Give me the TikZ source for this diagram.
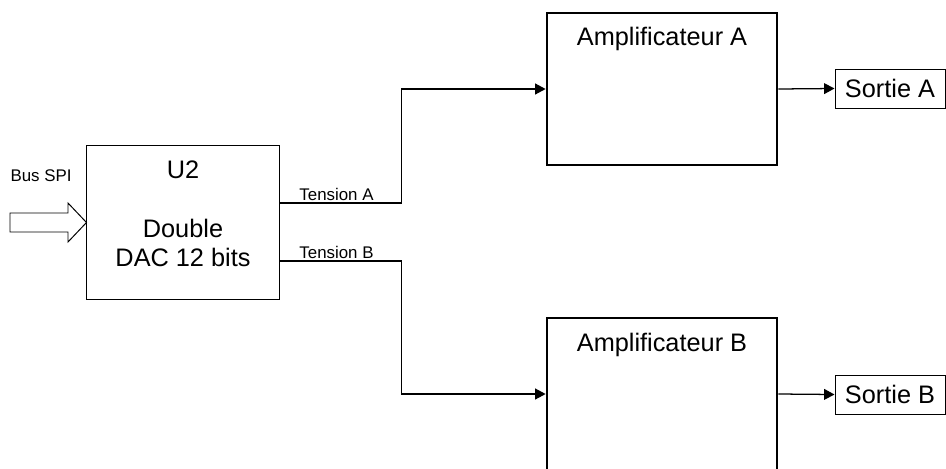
\documentclass[tikz,border=0pt]{standalone}
\usepackage{fontspec}
\setmainfont{Liberation Sans}
\usetikzlibrary{positioning,arrows.meta,calc}

\begin{document}
\begin{tikzpicture}[
      x=0.025cm, y=-0.025cm,
      thinbox/.style={draw,line width=0.7pt,inner sep=0pt},
      ampbox/.style={draw,line width=1.9pt,minimum width=5.75cm,minimum height=3.8cm,inner sep=0pt},
      outbox/.style={draw,line width=0.7pt,minimum width=2.75cm,minimum height=0.975cm,inner sep=0pt,font=\fontsize{18}{21}\selectfont},
      bigtxt/.style={inner sep=0pt,anchor=base,align=center,font=\fontsize{18}{20.6}\selectfont},
      smalltxt/.style={inner sep=0pt,anchor=base,font=\fontsize{12}{14}\selectfont},
      wire/.style={line width=0.9pt,-{Triangle[length=0.26cm,width=0.27cm]}}]
    \useasboundingbox (0,0) rectangle (946,468);

    % converter
    \node[thinbox,minimum width=4.8cm,minimum height=3.825cm] (dac) at (183,222.5) {};
    \node[bigtxt] (u2) at (183,178) {U2};
    \node[bigtxt] (dacname) at (183,266) {Double\\DAC 12 bits};

    % SPI input
    \node[smalltxt] (spi) at (41,181) {Bus SPI};
    \draw[line width=0.7pt] (10,213) -- (68,213) -- (68,203) -- (dac.west)
      -- (68,242) -- (68,232) -- (10,232) -- cycle;

    % amplifiers and outputs
    \node[ampbox] (ampA) at (662,89) {};
    \node[bigtxt] (ampAtxt) at (662,45) {Amplificateur A};
    \node[ampbox] (ampB) at (662,394) {};
    \node[bigtxt] (ampBtxt) at (662,351) {Amplificateur B};
    \node[outbox] (sortA) at (890,88.5) {Sortie A};
    \node[outbox] (sortB) at (890,394.5) {Sortie B};

    \coordinate (tA) at (dac.east |- 0,203);
    \coordinate (tB) at (dac.east |- 0,261);
    \node[smalltxt] (labA) at (336.5,200) {Tension A};
    \node[smalltxt] (labB) at (336.5,258) {Tension B};

    \draw[wire] (tA) -- ++(122,0) |- (ampA.west);
    \draw[wire] (tB) -- ++(122,0) |- (ampB.west);
    \draw[wire] (ampA.east) -- (sortA.west);
    \draw[wire] (ampB.east) -- (sortB.west);
  \end{tikzpicture}
\end{document}
